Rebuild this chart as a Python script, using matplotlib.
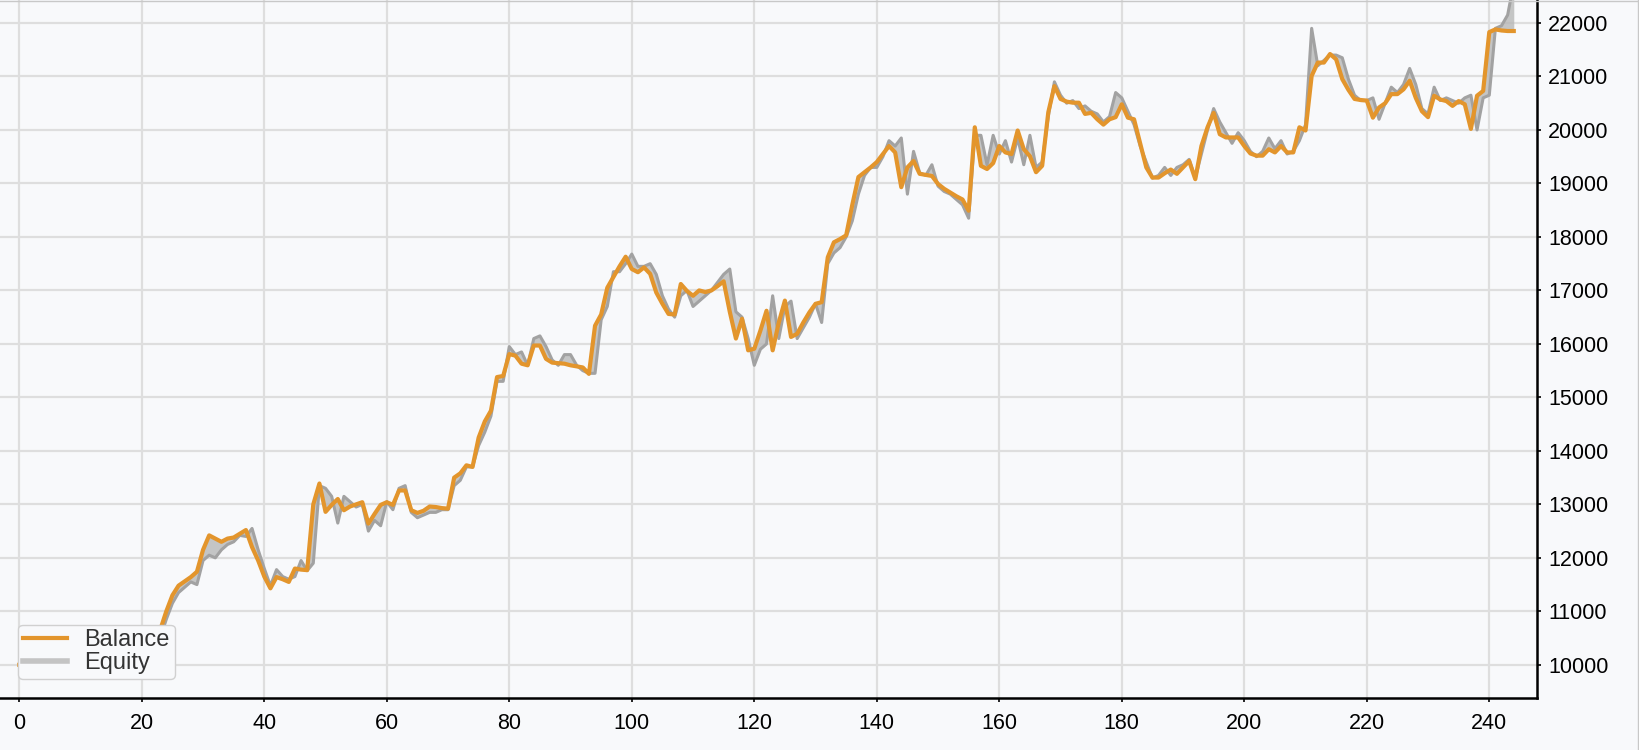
import numpy as np
import matplotlib
matplotlib.use("Agg")
import matplotlib.pyplot as plt
from matplotlib.lines import Line2D

plt.rcParams['font.family'] = ['Liberation Sans', 'DejaVu Sans']

# balance / equity per bar (index 0..244)
balance = [
    10000, 10000, 10000, 10000, 10000, 10000, 10000, 10000, 10000, 10000,
    10000, 10000, 10000, 10000, 10000, 10000, 10000, 10000, 10000, 10000,
    10000, 10050, 10300, 10650, 11000, 11300, 11480, 11560, 11640, 11740,
    12150, 12420, 12360, 12300, 12360, 12380, 12450, 12520, 12200, 11950,
    11650, 11430, 11640, 11600, 11550, 11800, 11780, 11770, 13000, 13390,
    12860, 12990, 13100, 12890, 12960, 13000, 13040, 12640, 12820, 12990,
    13040, 12990, 13260, 13260, 12890, 12840, 12880, 12960, 12950, 12930,
    12920, 13500, 13580, 13730, 13700, 14250, 14550, 14750, 15380, 15400,
    15810, 15780, 15630, 15600, 15970, 15970, 15720, 15650, 15640, 15630,
    15600, 15580, 15560, 15440, 16340, 16550, 17050, 17250, 17450, 17630,
    17400, 17340, 17430, 17310, 16960, 16750, 16560, 16550, 17120, 16990,
    16900, 17000, 16970, 17000, 17080, 17170, 16600, 16100, 16470, 15880,
    15910, 16250, 16620, 15880, 16400, 16810, 16130, 16190, 16400, 16590,
    16750, 16780, 17620, 17900, 17960, 18030, 18600, 19120, 19210, 19300,
    19400, 19550, 19700, 19580, 18930, 19300, 19420, 19180, 19160, 19140,
    18990, 18900, 18830, 18760, 18700, 18490, 20050, 19330, 19270, 19380,
    19700, 19580, 19550, 19990, 19640, 19510, 19210, 19330, 20330, 20820,
    20580, 20530, 20510, 20510, 20300, 20320, 20200, 20100, 20200, 20240,
    20480, 20230, 20200, 19750, 19300, 19110, 19110, 19190, 19260, 19180,
    19300, 19420, 19080, 19700, 20050, 20320, 19920, 19860, 19860, 19860,
    19700, 19560, 19520, 19520, 19640, 19580, 19700, 19580, 19580, 20050,
    19990, 21010, 21260, 21260, 21420, 21320, 20950, 20750, 20580, 20560,
    20550, 20230, 20420, 20500, 20670, 20670, 20760, 20920, 20600, 20350,
    20240, 20640, 20570, 20540, 20450, 20540, 20480, 20020, 20640, 20730,
    21830, 21880, 21860, 21850, 21850,
]

equity = [
    10000, 10000, 10000, 10000, 10000, 10000, 10000, 10000, 10000, 10000,
    10000, 10000, 10000, 10000, 10000, 10000, 10000, 10000, 10000, 10000,
    10000, 10000, 10150, 10500, 10850, 11150, 11350, 11450, 11550, 11500,
    11950, 12050, 12000, 12150, 12250, 12300, 12420, 12400, 12550, 12150,
    11800, 11480, 11780, 11650, 11600, 11650, 11950, 11760, 11900, 13350,
    13300, 13150, 12650, 13150, 13050, 12950, 13000, 12500, 12700, 12600,
    13050, 12900, 13300, 13350, 12850, 12750, 12800, 12850, 12850, 12900,
    12900, 13350, 13450, 13700, 13700, 14100, 14350, 14650, 15300, 15300,
    15950, 15800, 15850, 15600, 16100, 16150, 15950, 15700, 15600, 15800,
    15800, 15600, 15500, 15450, 15450, 16450, 16700, 17350, 17350, 17500,
    17680, 17450, 17450, 17500, 17300, 16900, 16650, 16500, 16900, 17000,
    16700, 16800, 16900, 17000, 17150, 17300, 17400, 16600, 16500, 16100,
    15600, 15900, 16000, 16900, 16100, 16700, 16800, 16100, 16300, 16500,
    16750, 16400, 17500, 17700, 17800, 18000, 18300, 18800, 19150, 19300,
    19300, 19500, 19800, 19700, 19850, 18800, 19600, 19200, 19150, 19350,
    18950, 18850, 18800, 18700, 18600, 18350, 19900, 19900, 19350, 19900,
    19550, 19800, 19400, 19850, 19350, 19900, 19300, 19400, 20250, 20900,
    20650, 20500, 20550, 20400, 20450, 20350, 20300, 20150, 20250, 20700,
    20600, 20350, 20100, 19700, 19400, 19100, 19150, 19300, 19150, 19300,
    19350, 19450, 19100, 19550, 20000, 20400, 20150, 19950, 19750, 19950,
    19800, 19600, 19500, 19600, 19850, 19650, 19800, 19550, 19600, 19800,
    20100, 21900, 21200, 21300, 21400, 21400, 21350, 20950, 20650, 20550,
    20550, 20600, 20200, 20500, 20800, 20700, 20850, 21150, 20850, 20400,
    20300, 20800, 20550, 20600, 20550, 20500, 20600, 20650, 20000, 20600,
    20650, 21900, 21950, 22150, 22750,
]

x_ticks = [0, 20, 40, 60, 80, 100, 120, 140, 160, 180, 200, 220, 240]
y_ticks = [10000, 11000, 12000, 13000, 14000, 15000, 16000, 17000, 18000,
           19000, 20000, 21000, 22000]

bg = '#f8f9fb'
orange = '#e3952c'

fig = plt.figure(figsize=(16.39, 7.5), dpi=100, facecolor=bg)
ax = fig.add_axes([0, 0.0693, 0.9378, 0.9307], facecolor=bg)

x = np.arange(len(balance))
ax.fill_between(x, balance, equity, color='#b8b8b8', alpha=0.8, lw=0, zorder=2)
ax.plot(x, equity, color='#a2a2a2', lw=2.2, zorder=3)
ax.plot(x, balance, color=orange, lw=3, zorder=4)

ax.set_xlim(-3.15, 247.8)
ax.set_ylim(9379, 22430)
ax.set_xticks(x_ticks)
ax.set_yticks(y_ticks)
ax.yaxis.tick_right()
ax.grid(True, color='#dedede', lw=1.6, zorder=0)
ax.set_axisbelow(True)

for s in ['left', 'top']:
    ax.spines[s].set_visible(False)
for s in ['right', 'bottom']:
    ax.spines[s].set_color('black')
    ax.spines[s].set_linewidth(1.8)

ax.tick_params(axis='both', labelsize=15.5, colors='black', length=3, width=1.2)
ax.tick_params(axis='x', pad=8)
ax.tick_params(axis='y', pad=5)

handles = [Line2D([], [], color=orange, lw=3),
           Line2D([], [], color='#c4c4c4', lw=4)]
leg = ax.legend(handles, ['Balance', 'Equity'], loc='lower left',
                bbox_to_anchor=(0.012, 0.027), fontsize=17, framealpha=1,
                facecolor=bg, edgecolor='#d0d0d0', handlelength=1.85,
                borderpad=0.2, labelspacing=0.05, handletextpad=0.75,
                borderaxespad=0)
for t in leg.get_texts():
    t.set_color('#333333')

# thin frame at the top and right of the image
fig.add_artist(Line2D([0, 0.9995], [0.999, 0.999], color='#c8c8c8', lw=1,
                      transform=fig.transFigure))
fig.add_artist(Line2D([0.9992, 0.9992], [0, 1], color='#c8c8c8', lw=1,
                      transform=fig.transFigure))

fig.savefig('out.png', dpi=100, facecolor=bg)
